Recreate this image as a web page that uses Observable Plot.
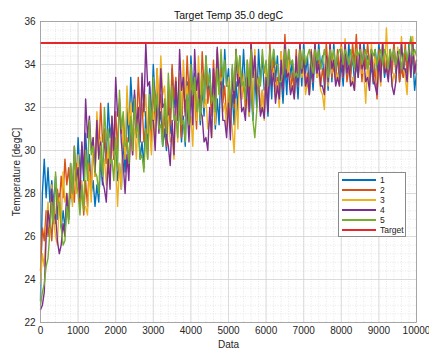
<!DOCTYPE html>
<html><head><meta charset="utf-8">
<script src="https://cdn.jsdelivr.net/npm/d3@7"></script>
<script src="https://cdn.jsdelivr.net/npm/@observablehq/plot@0.6"></script>
<style>
body{margin:0;background:#fff;font-family:"Liberation Sans",Arial,sans-serif}
#wrap{position:relative;width:429px;height:348px;overflow:hidden}
#legend{position:absolute;left:338px;top:172px;width:68px;height:65px;border:1px solid #8a8a8a;background:#fff;font-family:"Liberation Sans",Arial,sans-serif;font-size:8.5px;color:#222;box-sizing:border-box;padding:2px 0 0 3px}
#legend .row{display:flex;align-items:center;height:10px;line-height:10px}
#legend .sw{width:34px;margin-right:4px}
</style>
</head><body><div id="wrap"><div id="chart"></div><div id="legend"></div></div>
<script>
const titleText = "Target Temp 35.0 degC";
const xLabel = "Data";
const yLabel = "Temperature [degC]";
const sampleStep = 50;
const seriesNames = ["1","2","3","4","5"];
const seriesColors = ["#0072BD","#D95319","#EDB120","#7E2F8E","#77AC30"];
const targetValue = 35.0;
const targetName = "Target";
const xTicks = [0,1000,2000,3000,4000,5000,6000,7000,8000,9000,10000];
const yTicks = [22,24,26,28,30,32,34,36];

const s1 = [
23.0,28.0,29.6,27.8,29.2,27.6,28.6,27.4,28.8,26.8,28.0,26.4,27.2,26.4,27.8,26.8,28.6,27.6,29.4,28.2,
30.6,28.8,30.2,28.6,30.8,29.2,29.8,28.0,28.6,27.4,28.4,27.6,29.6,28.4,30.8,29.4,32.2,30.6,31.4,29.6,
30.2,28.6,29.4,28.2,30.6,29.0,32.0,30.4,33.4,31.8,32.6,30.6,31.2,29.6,30.4,29.2,31.8,30.0,33.0,31.4,
34.0,32.2,33.0,31.2,31.8,30.2,31.0,30.0,32.4,30.8,33.8,32.0,33.2,31.4,32.0,30.4,31.6,30.2,33.2,31.6,
34.4,32.8,33.6,31.8,32.8,31.2,33.0,31.6,34.4,32.6,33.8,32.2,32.6,31.0,32.4,31.2,34.0,32.4,34.7,33.0,
33.8,32.0,32.6,31.2,33.2,31.8,34.4,32.8,34.7,33.0,33.6,31.6,32.8,31.4,33.6,32.0,34.7,33.2,34.4,32.8,
33.0,31.6,33.8,32.4,34.7,33.2,34.4,32.8,33.4,32.2,34.0,32.6,34.7,33.4,34.2,32.6,33.6,32.4,34.4,33.0,
35.0,33.6,34.4,32.6,33.8,32.8,34.6,33.4,35.0,33.8,34.4,33.0,34.0,32.8,34.7,33.2,35.0,33.6,34.4,33.2,
34.0,33.0,34.7,33.4,35.0,33.6,34.4,33.2,34.0,33.4,34.7,33.6,35.0,33.8,34.4,33.2,34.0,33.1,34.7,33.6,
35.0,33.8,34.4,33.4,34.0,33.6,34.7,33.8,35.0,33.6,34.4,33.2,34.0,33.4,34.7,33.6,35.0,33.8,34.4,32.8,
33.6];
const s2 = [
24.4,26.4,25.8,27.2,26.0,27.0,25.8,27.4,26.6,28.2,27.4,28.8,27.8,29.6,28.4,29.2,27.8,28.6,27.6,29.4,
28.6,27.4,28.2,27.0,28.6,27.4,29.4,28.0,30.4,28.8,31.4,29.8,32.2,30.4,31.0,29.4,30.2,28.6,31.0,29.6,
31.8,30.0,32.4,30.8,31.6,29.8,30.6,29.0,31.4,29.8,32.4,30.8,33.4,31.6,32.2,30.4,31.0,29.6,32.0,30.4,
33.0,31.4,33.8,32.0,32.6,30.8,31.6,30.2,32.8,31.2,34.0,32.4,33.4,31.6,32.2,30.6,33.4,31.8,34.4,32.6,
33.8,32.0,32.6,31.0,33.4,31.8,34.6,33.0,33.8,32.2,33.0,31.6,34.2,32.6,34.7,33.0,33.8,32.2,33.0,31.4,
32.6,31.2,33.6,32.0,34.7,33.0,34.0,32.4,33.2,31.8,34.2,32.6,35.0,33.4,34.4,32.8,33.4,31.8,32.8,31.6,
34.0,32.4,35.0,33.4,34.2,32.6,33.4,32.2,34.6,33.0,35.4,33.6,34.4,32.8,33.6,32.6,34.7,33.2,35.0,33.6,
34.4,33.0,33.6,32.8,34.7,33.4,35.0,33.6,34.2,33.0,33.8,33.2,35.0,33.8,34.6,33.4,34.0,33.2,34.7,33.6,
35.0,33.8,34.4,33.2,33.8,33.4,35.0,34.0,35.4,33.6,34.4,33.2,34.7,33.8,35.0,34.0,34.4,33.2,33.8,32.4,
34.7,33.6,35.0,33.8,34.2,33.4,34.7,33.6,35.0,33.8,34.4,33.2,33.8,33.4,35.0,33.6,34.6,33.8,35.0,33.6,
34.0];
const s3 = [
23.8,25.2,24.6,26.4,27.6,26.2,28.4,26.8,26.0,25.6,27.8,26.6,29.0,27.6,28.0,27.2,28.8,27.4,29.4,28.0,
29.8,28.2,28.6,27.4,27.4,27.0,29.0,27.6,30.6,28.8,31.8,30.2,30.6,29.0,29.6,28.4,30.4,28.8,31.6,30.0,
29.4,27.4,29.4,28.2,31.4,29.6,33.0,31.2,32.2,30.6,31.0,29.6,32.0,30.4,33.4,31.6,32.6,30.8,31.0,29.8,
31.8,30.2,33.8,32.0,34.4,32.6,33.0,31.4,31.6,30.4,30.6,29.6,32.0,30.4,33.6,31.8,34.2,32.4,33.0,31.2,
31.6,30.2,33.0,31.4,34.4,32.6,33.6,32.0,32.4,31.0,31.4,30.6,32.8,31.2,34.4,32.6,33.4,31.8,32.2,31.0,
33.4,31.8,31.0,29.9,32.4,31.0,34.0,32.4,33.6,32.0,32.4,31.6,33.4,31.8,34.7,33.0,33.4,31.8,32.8,31.4,
34.0,32.6,34.7,33.2,33.8,32.4,33.2,32.0,34.6,33.0,35.0,33.4,34.2,32.8,33.0,32.4,34.4,33.0,35.0,33.4,
33.8,32.6,33.2,32.6,34.6,33.2,35.0,33.4,33.6,32.8,32.6,31.9,34.2,33.0,35.0,33.6,34.6,33.2,33.6,33.0,
34.8,33.4,35.2,33.6,34.0,33.0,33.4,32.8,34.6,33.4,35.0,33.6,33.6,32.2,34.2,33.0,35.0,33.8,34.4,33.2,
33.8,33.0,35.0,33.6,35.7,33.8,34.2,33.0,33.6,33.2,34.8,33.6,35.3,33.8,33.4,32.6,34.6,33.4,35.3,33.6,
34.2];
const s4 = [
22.6,22.8,23.4,26.0,27.2,26.4,28.2,26.8,27.0,25.8,25.2,25.6,26.6,26.0,28.0,26.8,29.4,28.0,30.2,28.6,
29.2,27.8,30.4,28.8,32.4,30.6,31.6,30.0,30.6,29.0,31.4,29.6,30.4,28.6,28.2,27.6,29.6,28.2,31.6,30.0,
33.4,31.6,32.2,30.4,29.4,28.0,29.8,28.6,31.4,29.8,32.8,31.0,32.0,30.4,33.6,31.8,35.0,33.0,33.2,31.4,
31.4,30.0,32.4,30.8,33.8,32.0,32.2,30.6,30.2,29.3,31.4,29.8,33.2,31.4,34.7,32.8,33.4,31.6,32.0,30.4,
32.8,31.2,34.7,32.8,33.6,31.8,31.6,30.4,30.6,30.0,32.0,30.6,33.8,32.0,34.8,33.0,33.2,31.4,31.4,30.6,
32.2,30.5,33.8,32.2,34.7,33.0,33.4,31.8,32.0,31.4,33.4,31.8,35.0,33.4,34.4,32.6,33.0,31.6,32.0,31.5,
33.4,31.8,34.7,33.0,33.6,32.2,33.0,32.4,34.2,32.8,35.0,33.4,33.6,32.6,33.0,32.4,34.4,33.0,35.0,33.6,
34.2,33.0,33.4,32.6,34.6,33.2,35.0,33.6,34.0,33.0,33.0,32.6,34.4,33.2,35.0,33.8,34.2,33.0,33.4,33.0,
34.7,33.4,35.0,33.6,34.0,33.0,33.2,32.8,34.4,33.4,35.0,33.8,34.2,33.2,33.4,32.8,34.7,33.4,33.0,32.6,
34.2,33.2,35.0,33.6,33.8,33.2,34.4,33.0,32.6,33.2,34.6,33.6,35.0,33.8,33.8,33.2,34.7,33.4,35.0,33.6,
34.2];
const s5 = [
22.8,23.4,23.8,24.6,25.0,26.2,27.6,26.6,29.0,27.6,27.6,26.4,25.6,25.8,27.4,26.6,29.4,28.0,30.2,28.6,
28.0,27.0,28.4,27.2,30.0,28.6,31.4,29.8,30.2,29.0,28.8,28.0,30.2,28.8,32.0,30.4,31.0,29.4,29.6,28.6,
30.6,29.2,32.8,31.0,31.8,30.2,30.4,29.4,31.6,30.0,32.4,30.8,31.2,29.6,29.8,29.0,31.0,29.6,32.6,31.0,
33.4,31.8,32.6,31.0,31.2,30.2,32.4,30.8,33.6,32.0,33.0,31.4,31.6,30.6,32.8,31.2,31.4,30.4,32.6,31.2,
34.0,32.6,33.4,31.8,32.4,31.4,33.6,32.2,34.4,33.0,33.6,32.2,32.6,31.8,33.8,32.6,34.7,33.4,34.2,33.0,
33.0,32.0,34.0,32.8,34.7,33.6,34.4,33.0,33.2,32.4,34.2,33.0,34.7,31.4,30.6,31.8,33.4,33.0,34.7,33.6,
34.2,33.0,34.7,33.8,34.7,34.0,34.0,33.2,33.2,33.6,34.7,33.8,34.7,34.0,34.2,33.4,33.6,33.4,34.7,33.8,
34.7,34.0,34.4,34.7,34.0,33.6,34.7,34.2,34.7,33.8,34.2,34.7,34.0,33.4,34.7,34.2,34.7,33.8,34.4,34.7,
34.7,34.0,34.7,34.4,34.0,34.7,34.2,33.8,34.7,34.4,34.7,34.0,34.4,34.7,33.8,34.2,34.7,34.4,34.7,34.0,
34.4,34.7,34.0,34.7,34.4,33.8,34.7,34.2,34.7,34.0,34.4,34.7,33.8,34.4,34.7,34.2,34.7,35.3,34.4,34.7,
34.4];

const allSeries = [s1,s2,s3,s4,s5];
const data = allSeries.flatMap((arr,i)=>arr.map((v,j)=>({x:j*sampleStep,y:v,s:seriesNames[i]})));

const minorX = d3.range(0,10001,200);
const minorY = d3.range(22,36.01,0.4);

const chart = Plot.plot({
  width:429, height:348,
  marginTop:21, marginBottom:26, marginLeft:40, marginRight:13,
  style:{fontFamily:'"Liberation Sans",Arial,sans-serif',fontSize:"10px",color:"#262626",background:"#fff"},
  x:{domain:[0,10000],ticks:xTicks,tickFormat:d=>String(d),label:xLabel,labelAnchor:"center",labelArrow:"none",labelOffset:25,tickSize:0,tickPadding:4},
  y:{domain:[22,36],ticks:yTicks,label:yLabel,labelAnchor:"center",labelArrow:"none",labelOffset:28,tickSize:0,tickPadding:5},
  color:{domain:seriesNames,range:seriesColors},
  marks:[
    Plot.gridX(minorX,{stroke:"#d8d8d8",strokeOpacity:1,strokeDasharray:"1,1.5",strokeWidth:0.6}),
    Plot.gridY(minorY,{stroke:"#d8d8d8",strokeOpacity:1,strokeDasharray:"1,1.5",strokeWidth:0.6}),
    Plot.gridX(xTicks,{stroke:"#d0d0d0",strokeOpacity:1,strokeWidth:0.7}),
    Plot.gridY(yTicks,{stroke:"#d0d0d0",strokeOpacity:1,strokeWidth:0.7}),
    Plot.lineY(data,{x:"x",y:"y",z:"s",stroke:"s",strokeWidth:1.4}),
    Plot.ruleY([targetValue],{stroke:"#e8262a",strokeWidth:1.8}),
    Plot.frame({stroke:"#9a9a9a",strokeWidth:0.8}),
    Plot.text([titleText],{frameAnchor:"top",lineAnchor:"bottom",dy:-3,fontSize:10.5,fill:"#111"})
  ]
});
document.getElementById("chart").appendChild(chart);

const legend = document.getElementById("legend");
const entries = seriesNames.map((n,i)=>({name:n,color:seriesColors[i],w:2})).concat([{name:targetName,color:"#e8262a",w:2}]);
for (const e of entries){
  const row = document.createElement("div"); row.className="row";
  const sw = document.createElement("div"); sw.className="sw"; sw.style.height = e.w+"px"; sw.style.background = e.color;
  const lab = document.createElement("span"); lab.textContent = e.name;
  row.appendChild(sw); row.appendChild(lab); legend.appendChild(row);
}
</script>
</body></html>
